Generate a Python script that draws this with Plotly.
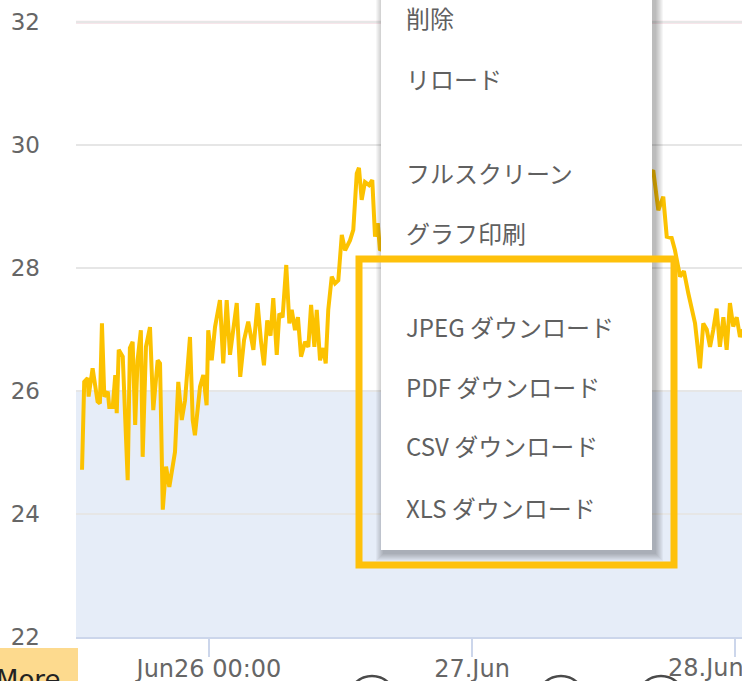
import plotly.graph_objects as go

# ---------------- data ----------------
times = [
    "2023-06-25 12:25", "2023-06-25 12:37", "2023-06-25 12:56", "2023-06-25 13:01", "2023-06-25 13:23",
    "2023-06-25 13:30", "2023-06-25 13:50", "2023-06-25 14:03", "2023-06-25 14:14", "2023-06-25 14:27",
    "2023-06-25 14:46", "2023-06-25 14:54", "2023-06-25 15:13", "2023-06-25 15:27", "2023-06-25 15:35",
    "2023-06-25 15:46", "2023-06-25 16:08", "2023-06-25 16:35", "2023-06-25 16:47", "2023-06-25 17:02",
    "2023-06-25 17:16", "2023-06-25 17:29", "2023-06-25 17:47", "2023-06-25 17:57", "2023-06-25 18:15",
    "2023-06-25 18:37", "2023-06-25 18:55", "2023-06-25 19:19", "2023-06-25 19:32", "2023-06-25 19:47",
    "2023-06-25 20:05", "2023-06-25 20:23", "2023-06-25 20:41", "2023-06-25 20:54", "2023-06-25 21:12",
    "2023-06-25 21:31", "2023-06-25 21:49", "2023-06-25 22:16", "2023-06-25 22:31", "2023-06-25 22:43",
    "2023-06-25 23:11", "2023-06-25 23:29", "2023-06-25 23:47", "2023-06-25 23:56", "2023-06-26 00:15",
    "2023-06-26 00:33", "2023-06-26 01:00", "2023-06-26 01:18", "2023-06-26 01:37", "2023-06-26 01:55",
    "2023-06-26 02:32", "2023-06-26 02:51", "2023-06-26 03:12", "2023-06-26 03:35", "2023-06-26 04:03",
    "2023-06-26 04:26", "2023-06-26 04:45", "2023-06-26 05:01", "2023-06-26 05:19", "2023-06-26 05:37",
    "2023-06-26 05:52", "2023-06-26 06:11", "2023-06-26 06:25", "2023-06-26 06:43", "2023-06-26 07:03",
    "2023-06-26 07:20", "2023-06-26 07:33", "2023-06-26 07:51", "2023-06-26 08:07", "2023-06-26 08:24",
    "2023-06-26 08:46", "2023-06-26 09:04", "2023-06-26 09:19", "2023-06-26 09:37", "2023-06-26 09:50",
    "2023-06-26 10:08", "2023-06-26 10:26", "2023-06-26 10:39", "2023-06-26 10:53", "2023-06-26 11:12",
    "2023-06-26 11:30", "2023-06-26 11:48", "2023-06-26 12:07", "2023-06-26 12:25", "2023-06-26 12:52",
    "2023-06-26 13:10", "2023-06-26 13:29", "2023-06-26 13:41", "2023-06-26 13:56", "2023-06-26 14:14",
    "2023-06-26 14:36", "2023-06-26 14:54", "2023-06-26 15:09", "2023-06-26 15:24", "2023-06-26 15:36",
    "2023-06-26 17:26", "2023-06-26 20:10", "2023-06-26 22:54", "2023-06-27 01:38", "2023-06-27 04:23",
    "2023-06-27 07:07", "2023-06-27 09:51", "2023-06-27 12:35", "2023-06-27 14:52",
    "2023-06-27 16:32", "2023-06-27 17:00", "2023-06-27 17:27", "2023-06-27 17:46", "2023-06-27 18:13",
    "2023-06-27 18:31", "2023-06-27 18:59", "2023-06-27 19:20", "2023-06-27 19:44", "2023-06-27 20:04",
    "2023-06-27 20:21", "2023-06-27 20:48", "2023-06-27 21:06", "2023-06-27 21:25", "2023-06-27 21:43",
    "2023-06-27 22:01", "2023-06-27 22:19", "2023-06-27 22:37", "2023-06-27 22:56", "2023-06-27 23:14",
    "2023-06-27 23:32", "2023-06-27 23:50", "2023-06-28 00:09", "2023-06-28 00:27", "2023-06-28 00:43",
]
temps = [
    24.72, 26.15, 26.21, 25.91, 26.37,
    26.23, 25.83, 25.80, 27.10, 25.91,
    25.99, 25.74, 25.74, 26.26, 25.64,
    26.67, 26.56, 24.55, 26.70, 26.80,
    25.45, 26.50, 26.99, 24.93, 26.72,
    27.04, 25.69, 26.50, 26.45, 24.07,
    24.77, 24.44, 24.83, 25.01, 26.15,
    25.53, 25.85, 26.88, 25.53, 25.28,
    26.07, 26.26, 25.77, 26.99, 26.50,
    27.04, 27.48, 26.45, 27.48, 26.59,
    27.43, 26.23, 26.83, 27.13, 26.67,
    27.43, 26.80, 26.42, 27.15, 26.90,
    27.51, 26.59, 27.26, 27.20, 28.05,
    27.10, 27.32, 26.99, 27.20, 26.56,
    26.80, 26.72, 27.40, 26.72, 27.32,
    26.50, 26.70, 26.45, 27.32, 27.86,
    27.75, 27.80, 28.54, 28.29, 28.45,
    28.62, 29.54, 29.63, 29.11, 29.40,
    29.35, 29.43, 28.51, 28.73, 28.29,
    28.60, 28.90, 29.20, 28.80, 29.00,
    29.30, 29.10, 29.40, 29.20,
    29.59, 28.94, 29.16, 28.51, 28.49,
    28.29, 27.86, 27.95, 27.59, 27.30,
    27.10, 26.37, 27.10, 27.00, 26.72,
    27.00, 27.34, 26.72, 27.20, 26.67,
    27.43, 27.05, 27.20, 26.88, 27.00,
]
x_tick_vals = ["2023-06-26 00:00", "2023-06-27 00:00", "2023-06-28 00:00"]
x_tick_text = ["Jun26 00:00", "27.Jun", "28.Jun"]
y_tick_vals = [22, 24, 26, 28, 30, 32]
band_low, band_high = 22, 26
limit_line = 32
menu_items = ["削除", "リロード", "フルスクリーン", "グラフ印刷",
              "JPEG ダウンロード", "PDF ダウンロード", "CSV ダウンロード", "XLS ダウンロード"]

# ---------------- layout helpers (pixel -> paper) ----------------
W, H = 742, 681
L, R, T, B = 76, 0, 0, 44
PW, PH = W - L - R, H - T - B


def px(x):
    return (x - L) / PW


def py(y):
    return (H - B - y) / PH


fig = go.Figure()
fig.add_trace(go.Scatter(
    x=times, y=temps, mode="lines",
    line=dict(color="#FCC200", width=4),
    hoverinfo="skip", showlegend=False,
))

shapes = []
# plot band
shapes.append(dict(type="rect", xref="paper", yref="y", x0=0, x1=1, y0=band_low, y1=band_high,
                   fillcolor="#e6edf8", line=dict(width=0), layer="below"))
# limit line
shapes.append(dict(type="line", xref="paper", yref="y", x0=0, x1=1, y0=limit_line, y1=limit_line,
                   line=dict(color="#f5dce3", width=3), layer="between"))

# menu shadow
for k in range(1, 9):
    shapes.append(dict(type="rect", xref="paper", yref="paper",
                       x0=px(381 + 3 - k), x1=px(652 + 3 + k),
                       y0=py(550 + 3 + k), y1=py(-20),
                       fillcolor="rgba(0,0,0,0.035)", line=dict(width=0), layer="above"))
# menu box
shapes.append(dict(type="rect", xref="paper", yref="paper",
                   x0=px(381), x1=px(652), y0=py(550), y1=py(-20),
                   fillcolor="#ffffff", line=dict(width=0), layer="above"))
# highlight rectangle
shapes.append(dict(type="rect", xref="paper", yref="paper",
                   x0=px(359), x1=px(674), y0=py(565), y1=py(259),
                   fillcolor="rgba(0,0,0,0)", line=dict(color="#FEC10B", width=7), layer="above"))
# "More" button
shapes.append(dict(type="rect", xref="paper", yref="paper",
                   x0=px(-2), x1=px(78), y0=py(690), y1=py(648),
                   fillcolor="#fdda8e", line=dict(width=0), layer="above"))
# cut-off round buttons at the bottom
for cx in [372, 561, 661]:
    shapes.append(dict(type="circle", xref="paper", yref="paper",
                       x0=px(cx - 24), x1=px(cx + 24), y0=py(725), y1=py(676),
                       fillcolor="rgba(0,0,0,0)", line=dict(color="#4a4a4a", width=2.5), layer="above"))

annotations = []
menu_y = [18, 78, 172, 232, 327, 386, 446, 507]
for txt, yy in zip(menu_items, menu_y):
    annotations.append(dict(text=txt, xref="paper", yref="paper", x=px(404), y=py(yy),
                            xanchor="left", yanchor="middle", showarrow=False,
                            font=dict(family="Noto Sans CJK JP", size=24, color="#606060")))
annotations.append(dict(text="More", xref="paper", yref="paper", x=px(-6), y=py(680),
                        xanchor="left", yanchor="middle", showarrow=False,
                        font=dict(family="DejaVu Sans", size=26, color="#222222")))
# last x label is pushed inside the chart edge (as the original chart library does)
annotations.append(dict(text=x_tick_text[-1], xref="paper", yref="paper", x=px(666), y=py(652),
                        xanchor="left", yanchor="top", showarrow=False,
                        font=dict(family="DejaVu Sans", size=24, color="#666666")))

fig.update_layout(
    width=W, height=H,
    margin=dict(l=L, r=R, t=T, b=B, pad=0, autoexpand=False),
    paper_bgcolor="#ffffff", plot_bgcolor="#ffffff",
    shapes=shapes, annotations=annotations,
    showlegend=False,
    xaxis=dict(
        type="date", automargin=False,
        range=["2023-06-25 11:52", "2023-06-28 00:38"],
        tickmode="array", tickvals=x_tick_vals, ticktext=x_tick_text[:-1] + [""],
        ticks="outside", ticklen=18, tickwidth=1.5, tickcolor="#ccd6eb",
        ticklabelstandoff=-9, ticklabeloverflow="allow",
        showgrid=False, showline=True, linecolor="#ccd6eb", linewidth=1.5,
        tickfont=dict(family="DejaVu Sans", size=24, color="#666666"),
        zeroline=False, fixedrange=True,
    ),
    yaxis=dict(
        range=[22, 32.36], automargin=False,
        tickmode="array", tickvals=y_tick_vals,
        showgrid=True, gridcolor="#e6e6e6", gridwidth=1.5,
        ticks="", ticklabelstandoff=35,
        tickfont=dict(family="DejaVu Sans", size=23, color="#666666"),
        zeroline=False, showline=False, fixedrange=True,
    ),
)

fig.write_html(
    "out.html",
    config={"displayModeBar": False},
    post_script="document.body.style.margin='0';document.body.style.overflow='hidden';",
)
